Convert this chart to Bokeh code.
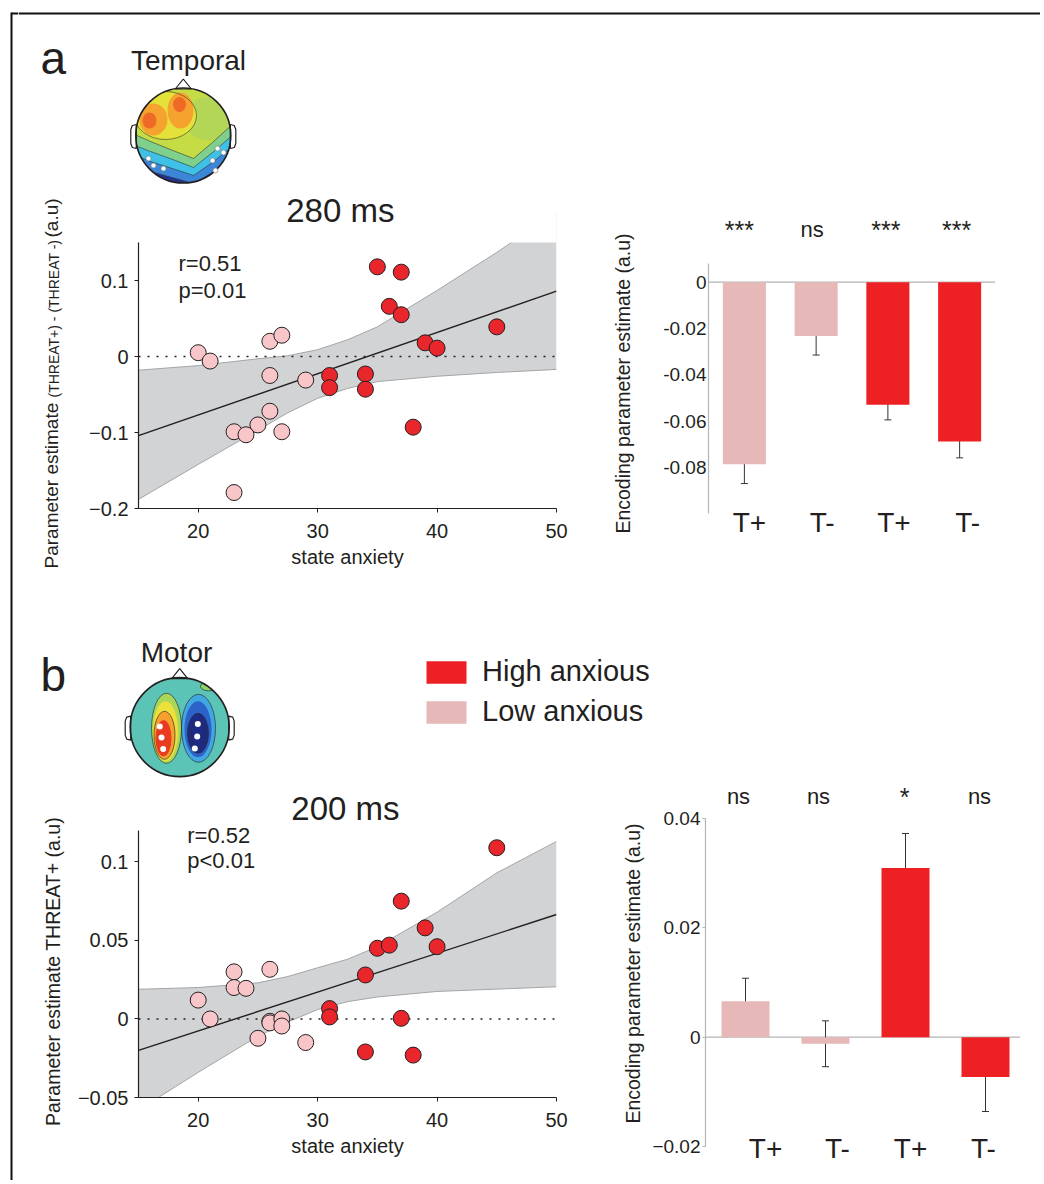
import numpy as np
from bokeh.plotting import figure
from bokeh.models import (Range1d, FixedTicker, Span, ColumnDataSource,
                          Whisker, TeeHead, Legend, LegendItem)
from bokeh.layouts import row, column
from bokeh.embed import file_html
from bokeh.resources import INLINE
from bokeh.core.properties import value

FONT = "Liberation Sans"
INK = "#231f20"
LOW_DOT = "#f8c6c9"
HIGH_DOT = "#e8262b"
LOW_BAR = "#e6b8b7"
HIGH_BAR = "#ed2024"
BAND = "#d1d3d4"
BAND_EDGE = "#a3a5a8"
GREY_AXIS = "#b4b4b4"

# ---------------- data ----------------
x_ticks = [20, 30, 40, 50]

# panel a : Temporal cluster, 280 ms
a_low_anx = [20, 21, 26, 27, 26, 29, 26, 25, 23, 24, 27, 23]
a_low_est = [0.005, -0.006, 0.020, 0.028, -0.025, -0.031, -0.072, -0.090, -0.099, -0.103, -0.099, -0.179]
a_high_anx = [35, 37, 36, 37, 45, 39, 40, 31, 31, 34, 34, 38]
a_high_est = [0.118, 0.111, 0.066, 0.055, 0.039, 0.018, 0.011, -0.025, -0.041, -0.023, -0.043, -0.093]
fit_anx = [15, 50]
a_fit = [-0.104, 0.086]
band_anx = [15, 20, 25, 27.5, 30, 32.5, 35, 40, 45, 50]
a_band_upper = [-0.018, -0.012, -0.003, 0.001, 0.009, 0.022, 0.039, 0.087, 0.137, 0.190]
a_band_lower = [-0.188, -0.142, -0.097, -0.074, -0.055, -0.042, -0.033, -0.026, -0.021, -0.017]
a_stats = ["r=0.51", "p=0.01"]
a_y_ticks = [-0.2, -0.1, 0, 0.1]
a_y_labels = ["\u22120.2", "\u22120.1", "0", "0.1"]
a_y_limits = (-0.2, 0.15)

# panel b : Motor cluster, 200 ms
b_low_anx = [20, 21, 23, 23, 24, 26, 26, 26, 27, 27, 25, 29]
b_low_est = [0.012, 0.000, 0.030, 0.020, 0.0195, 0.0316, -0.0015, -0.0025, 0.000, -0.0045, -0.0123, -0.015]
b_high_anx = [45, 37, 39, 35, 36, 40, 34, 31, 31, 37, 34, 38]
b_high_est = [0.109, 0.075, 0.058, 0.045, 0.047, 0.046, 0.028, 0.0066, 0.0013, 0.0004, -0.021, -0.023]
b_fit = [-0.020, 0.0665]
b_band_upper = [0.0189, 0.020, 0.023, 0.027, 0.0326, 0.038, 0.046, 0.068, 0.093, 0.113]
b_band_lower = [-0.058, -0.034, -0.011, -0.002, 0.006, 0.011, 0.014, 0.0175, 0.019, 0.0205]
b_stats = ["r=0.52", "p<0.01"]
b_y_ticks = [-0.05, 0, 0.05, 0.1]
b_y_labels = ["\u22120.05", "0", "0.05", "0.1"]
b_y_limits = (-0.05, 0.12)

# bar charts
bar_conditions = ["T+", "T-", "T+", "T-"]
bar_groups = ["Low anxious", "Low anxious", "High anxious", "High anxious"]
a_bar_est = [-0.0787, -0.0233, -0.0530, -0.0688]
a_bar_err = [0.0083, 0.0082, 0.0065, 0.0071]
a_bar_sig = ["***", "ns", "***", "***"]
a_bar_ticks = [-0.08, -0.06, -0.04, -0.02, 0]
a_bar_labels = ["-0.08", "-0.06", "-0.04", "-0.02", "0"]
b_bar_est = [0.0066, -0.0012, 0.0310, -0.0073]
b_bar_err = [0.0042, 0.0042, 0.0063, 0.0063]
b_bar_sig = ["ns", "ns", "*", "ns"]
b_bar_ticks = [-0.02, 0, 0.02, 0.04]
b_bar_labels = ["\u22120.02", "0", "0.02", "0.04"]

group_colors = {"Low anxious": LOW_BAR, "High anxious": HIGH_BAR}


# ---------------- helpers ----------------
def base_fig(**kw):
    p = figure(toolbar_location=None, output_backend="svg", **kw)
    p.frame_align = False
    p.grid.visible = False
    p.outline_line_color = None
    return p


def canvas(w, h, x0, y0):
    return base_fig(width=w, height=h, x_range=Range1d(x0, x0 + w), y_range=Range1d(y0 + h, y0),
                    min_border=0, x_axis_location=None, y_axis_location=None)


def ctext(p, x, y, text, size, align="center", angle=0.0):
    p.text(x=[x], y=[y], text=[text], angle=angle, text_align=align, text_baseline="middle",
           text_font=value(FONT), text_font_size=size, text_color=INK)


def style_axis(ax, color, tick_out, size):
    ax.axis_line_color = color
    ax.axis_line_width = 1.2
    ax.major_tick_line_color = color
    ax.major_tick_in = 0
    ax.major_tick_out = tick_out
    ax.minor_tick_line_color = None
    ax.major_label_text_font = FONT
    ax.major_label_text_font_size = size
    ax.major_label_text_color = INK
    ax.axis_label_text_font = FONT
    ax.axis_label_text_font_style = "normal"
    ax.axis_label_text_color = INK


def scatter_fig(height, top, bottom, y_end, limits, y_ticks, y_labels,
                lx, ly, hx, hy, fit_y, band_up, band_lo, stats, stat_pos, title, title_pos):
    p = base_fig(width=520, height=height, x_range=Range1d(15, 50), y_range=Range1d(limits[0], y_end),
                 min_border_left=68, min_border_right=34, min_border_top=top, min_border_bottom=bottom)
    p.varea(x=band_anx, y1=band_lo, y2=band_up, fill_color=BAND)
    p.line(band_anx, band_up, line_color=BAND_EDGE, line_width=1)
    p.line(band_anx, band_lo, line_color=BAND_EDGE, line_width=1)
    # the plotting area ends at the top of the y axis: hide anything above it
    p.quad(left=[p.x_range.start], right=[p.x_range.end], bottom=[limits[1]], top=[y_end],
           fill_color="white", line_color=None)
    p.line([p.x_range.start, p.x_range.end], [0, 0], line_color=INK, line_dash="2 7", line_width=1.4)
    p.line(fit_anx, fit_y, line_color=INK, line_width=1.4)
    p.scatter(lx, ly, size=16, fill_color=LOW_DOT, line_color=INK, line_width=1)
    p.scatter(hx, hy, size=16, fill_color=HIGH_DOT, line_color=INK, line_width=1)

    p.xaxis.ticker = FixedTicker(ticks=x_ticks)
    p.yaxis.ticker = FixedTicker(ticks=y_ticks)
    p.yaxis.major_label_overrides = {t: s for t, s in zip(y_ticks, y_labels)}
    p.yaxis.bounds = limits
    for ax in (p.xaxis[0], p.yaxis[0]):
        style_axis(ax, INK, 4, "20px")
    p.yaxis.major_label_standoff = 6
    p.xaxis.major_label_standoff = 11
    p.xaxis.axis_label = "state anxiety"
    p.xaxis.axis_label_text_font_size = "20px"
    p.xaxis.axis_label_standoff = 5

    ctext(p, stat_pos[0], stat_pos[1], stats[0], "22px", align="left")
    ctext(p, stat_pos[0], stat_pos[2], stats[1], "22px", align="left")
    ctext(p, title_pos[0], title_pos[1], title, "33px")
    return p


def bar_fig(height, top, bottom, left, right, x_end, y_start, y_end, bounds, ticks, labels,
            est, err, sig, sig_y, cat_y, sig_dx, cat_dx, tick_out):
    p = base_fig(width=395, height=height, x_range=Range1d(0.5, x_end), y_range=Range1d(y_start, y_end),
                 min_border_left=left, min_border_right=right, min_border_top=top, min_border_bottom=bottom,
                 x_axis_location=None)
    pos = [i + 1 for i in range(len(est))]
    src = ColumnDataSource(dict(
        x=pos, top=est, color=[group_colors[g] for g in bar_groups],
        upper=[v + e for v, e in zip(est, err)], lower=[v - e for v, e in zip(est, err)],
        sig=sig, sig_size=["25px" if "*" in s else "22px" for s in sig],
        cond=bar_conditions, sig_y=[sig_y] * len(est), cat_y=[cat_y] * len(est),
        sig_dx=sig_dx, cat_dx=cat_dx))
    p.add_layout(Span(location=0, dimension="width", line_color=GREY_AXIS, line_width=1.2, level="underlay"))
    p.vbar(x="x", top="top", bottom=0, width=0.6, fill_color="color", line_color=None, source=src)
    p.add_layout(Whisker(source=src, base="x", upper="upper", lower="lower",
                         line_color="#333333", line_width=1,
                         upper_head=TeeHead(size=7, line_color="#333333", line_width=1),
                         lower_head=TeeHead(size=7, line_color="#333333", line_width=1)))
    p.text(x="x", y="sig_y", text="sig", x_offset="sig_dx", source=src, text_align="center",
           text_baseline="middle", text_font=value(FONT), text_font_size="sig_size", text_color=INK)
    p.text(x="x", y="cat_y", text="cond", x_offset="cat_dx", source=src, text_align="center",
           text_baseline="middle", text_font=value(FONT), text_font_size="28px", text_color=INK)

    ax = p.yaxis[0]
    ax.bounds = bounds
    ax.ticker = FixedTicker(ticks=ticks)
    ax.major_label_overrides = {t: s for t, s in zip(ticks, labels)}
    style_axis(ax, GREY_AXIS, tick_out, "19px")
    ax.major_label_standoff = 2
    return p


def head_outline(p, cx, cy, r):
    t = np.linspace(0, 2 * np.pi, 120)
    cxs = list(cx + r * np.cos(t))
    cys = list(cy + r * np.sin(t))
    m = r + 10
    sq_x = [cx - m, cx + m, cx + m, cx - m]
    sq_y = [cy - m, cy - m, cy + m, cy + m]
    p.multi_polygons(xs=[[[sq_x, cxs]]], ys=[[[sq_y, cys]]], fill_color="white", line_color=None)
    p.patch([cx - 8, cx, cx + 8], [cy - r + 1, cy - r - 9, cy - r + 1],
            fill_color="white", line_color=INK, line_width=1.2)
    ex = [cx - r + 0.5, cx - r - 3.5, cx - r - 5, cx - r - 5, cx - r - 3.5, cx - r + 0.5]
    ey = [cy - 11, cy - 10, cy - 6, cy + 8, cy + 12, cy + 13]
    p.patch(ex, ey, fill_color="white", line_color=INK, line_width=1.2)
    p.patch([2 * cx - v for v in ex], ey, fill_color="white", line_color=INK, line_width=1.2)
    p.ellipse(x=[cx], y=[cy], width=[2 * r], height=[2 * r], fill_color=None,
              line_color=INK, line_width=1.6)


UP = np.pi / 2

# ---------------- left frame strip ----------------
strip = canvas(18, 1180, 0, 0)
strip.segment(x0=[11, 11], y0=[12, 13], x1=[11, 18], y1=[1180, 13], line_color="#111111", line_width=2)

# ---------------- top band (panel a header) ----------------
topA = canvas(1022, 192, 18, 0)
topA.add_layout(Span(location=13, dimension="width", line_color="#111111", line_width=2))
cxA, cyA, rA = 182.8, 135.0, 47.5
topA.ellipse(x=[cxA], y=[cyA], width=[2 * rA], height=[2 * rA], fill_color="#c6dc45", line_color=None)
topA.ellipse(x=[208], y=[118], width=[50], height=[44], fill_color="#b4d657", line_color=None)
topA.ellipse(x=[165], y=[115], width=[62], height=[48], fill_color="#e4e23a", line_color=None)
topA.ellipse(x=[153], y=[119], width=[28], height=[32], fill_color="#f6a22f", line_color=None)
topA.ellipse(x=[180], y=[110], width=[26], height=[36], fill_color="#f6a22f", line_color=None)
topA.ellipse(x=[149], y=[120], width=[14], height=[16], fill_color="#ef6a27", line_color=None)
topA.ellipse(x=[179], y=[104], width=[13], height=[15], fill_color="#ef6a27", line_color=None)
v_x = [132, 150, 175, 193, 212, 234]
v_levels = [([133, 141, 151, 158, 142, 122], "#7fd08c"),
            ([144, 151, 160, 167, 152, 133], "#3fc0e6"),
            ([154, 161, 169, 175, 162, 144], "#3c86d7"),
            ([164, 171, 178, 183, 172, 155], "#243394")]
for ys, col in v_levels:
    topA.patch(v_x + [234, 132], ys + [188, 188], fill_color=col, line_color=None)
for ys, col in v_levels:
    topA.line(v_x, ys, line_color="#2b2b2b", line_width=0.8, line_alpha=0.7)
topA.ellipse(x=[165], y=[115], width=[62], height=[48], fill_color=None, line_color="#2b2b2b",
             line_width=0.8, line_alpha=0.7)
head_outline(topA, cxA, cyA, rA)
topA.scatter([148, 153, 163, 217, 223, 212, 215], [158, 165, 168, 148, 152, 160, 170], size=5,
             fill_color="white", line_color="#777777", line_width=0.6)
ctext(topA, 40, 57.6, "a", "46px", align="left")
ctext(topA, 188, 59.5, "Temporal", "28px")

# ---------------- panel a row ----------------
ylabA = canvas(52, 408, 18, 192)
ylabA.text(x=[51.4, 53.1, 51.4], y=[568, 397, 237],
           text=["Parameter estimate ", "(THREAT+) - (THREAT -)", " (a.u)"],
           text_font_size=["19px", "14px", "19px"], angle=UP, text_align="left",
           text_baseline="middle", text_font=value(FONT), text_color=INK)

sa = scatter_fig(408, 6, 92, 0.2079, a_y_limits, a_y_ticks, a_y_labels,
                 a_low_anx, a_low_est, a_high_anx, a_high_est, a_fit, a_band_upper, a_band_lower,
                 a_stats, (18.35, 0.122, 0.0868), "280 ms", (31.9, 0.192))

barlabA = canvas(55, 408, 590, 192)
ctext(barlabA, 622, 383, "Encoding parameter estimate (a.u)", "19.5px", angle=UP)

ba = bar_fig(408, 13, 60, 63, 45, 4.5, -0.1116, 0.0331, (-0.1, 0.008), a_bar_ticks, a_bar_labels,
             a_bar_est, a_bar_err, a_bar_sig, 0.0226, -0.1038, [-5, -4, -2, -3], [5, 6, 6, 8], 0)

# ---------------- middle band (panel b header + legend) ----------------
midB = canvas(1022, 180, 18, 600)
cxB, cyB, rB = 179.2, 726.6, 49.5
dyB = cyB - 728.8
midB.ellipse(x=[cxB], y=[cyB], width=[2 * rB], height=[2 * rB], fill_color="#5cc4b6", line_color=None)
midB.ellipse(x=[208], y=[688 + dyB], width=[16], height=[9], fill_color="#8fd36d", line_color="#2b2b2b",
             line_width=0.7)
for (ex_, ey_, ew, eh, col) in [(166, 730, 30, 70, "#a8d75a"), (165, 733, 25, 60, "#eee03a"),
                                (164, 737, 21, 48, "#f6a12f"), (163, 740, 16, 36, "#e93b22"),
                                (198, 730, 34, 68, "#41a7e3"), (197.5, 731, 27, 56, "#2d63c9"),
                                (197.5, 735, 21, 40, "#1d2b86")]:
    midB.ellipse(x=[ex_], y=[ey_ + dyB], width=[ew], height=[eh], fill_color=col, line_color=None)
for (ex_, ey_, ew, eh) in [(166, 730, 30, 70), (164, 737, 21, 48), (198, 730, 34, 68),
                           (197.5, 735, 21, 40), (197.5, 736, 14, 28)]:
    midB.ellipse(x=[ex_], y=[ey_ + dyB], width=[ew], height=[eh], fill_color=None,
                 line_color="#2b2b2b", line_width=0.8, line_alpha=0.8)
head_outline(midB, cxB, cyB, rB)
midB.scatter([159.3, 161, 162.7, 197.3, 196.7, 194.3],
             [v + dyB for v in [728.3, 739.3, 750.7, 725.7, 738.3, 750.3]],
             size=6, fill_color="white", line_color=None)
ctext(midB, 40, 674, "b", "46px", align="left")
ctext(midB, 176, 651.5, "Motor", "28px")

# legend swatches sit outside the visible range; only the legend shows them
r_high = midB.quad(left=[-60], right=[-50], top=[-60], bottom=[-50], fill_color=HIGH_BAR, line_color=None)
r_low = midB.quad(left=[-60], right=[-50], top=[-60], bottom=[-50], fill_color=LOW_BAR, line_color=None)
legend = Legend(items=[LegendItem(label="High anxious", renderers=[r_high]),
                       LegendItem(label="Low anxious", renderers=[r_low])],
                location=(403, 52), glyph_width=50, glyph_height=28, label_standoff=11,
                spacing=7, padding=0, margin=0, label_text_font=FONT, label_text_font_size="29px",
                label_text_color=INK, border_line_color=None, background_fill_alpha=0)
midB.add_layout(legend)

# ---------------- panel b row ----------------
ylabB = canvas(52, 400, 18, 780)
ctext(ylabB, 52, 971, "Parameter estimate THREAT+ (a.u)", "19.5px", angle=UP)

sb = scatter_fig(400, 11, 83, 0.1448, b_y_limits, b_y_ticks, b_y_labels,
                 b_low_anx, b_low_est, b_high_anx, b_high_est, b_fit, b_band_upper, b_band_lower,
                 b_stats, (19.08, 0.1168, 0.1009), "200 ms", (32.33, 0.134))

barlabB = canvas(55, 400, 590, 780)
ctext(barlabB, 632, 973, "Encoding parameter estimate (a.u)", "19.5px", angle=UP)

bb = bar_fig(400, 0, 10, 60, 20, 4.4375, -0.0244, 0.0470, (-0.02, 0.04), b_bar_ticks, b_bar_labels,
             b_bar_est, b_bar_err, b_bar_sig, 0.0440, -0.0204, [-7, -7, -1, -6], [20, 12, 5, -2], 3)

layout = row(strip, column(topA, row(ylabA, sa, barlabA, ba), midB, row(ylabB, sb, barlabB, bb)))

open("out.html", "w").write(file_html(layout, INLINE, title="anxiety encoding"))
